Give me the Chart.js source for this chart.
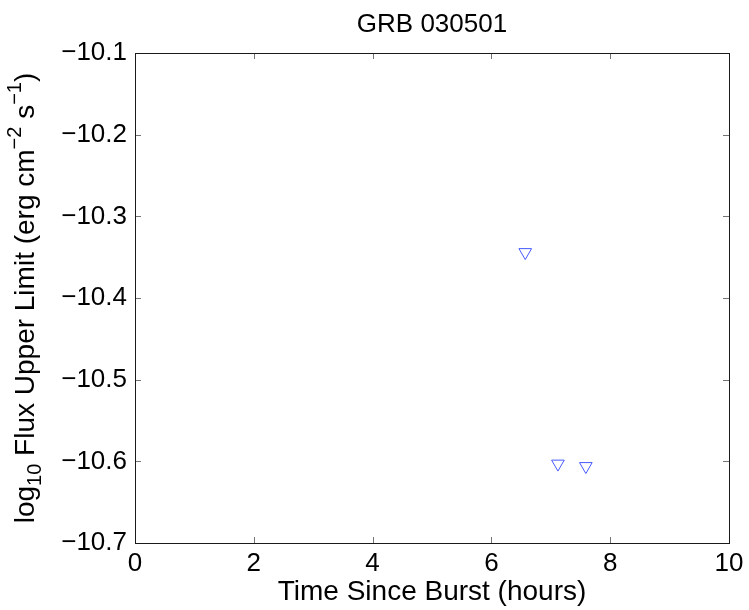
<!DOCTYPE html>
<html>
<head>
<meta charset="utf-8">
<script src="https://cdn.jsdelivr.net/npm/chart.js@4"></script>
<style>
  html, body { margin: 0; padding: 0; background: #fff; }
  #c { display: block; }
</style>
</head>
<body>
<canvas id="c" width="749" height="610"></canvas>
<script>
// ---- data ----
const chartTitle = 'GRB 030501';
const timeHours = [6.57, 7.12, 7.59];
const fluxUpperLimit = [-10.344, -10.603, -10.606];
const xTickValues = [0, 2, 4, 6, 8, 10];
const yTickValues = [-10.7, -10.6, -10.5, -10.4, -10.3, -10.2, -10.1];
const xLabel = 'Time Since Burst (hours)';
// y label parts: [text, kind] kind: n = normal, sub, sup
const yLabelParts = [['log', 'n'], ['10', 'sub'], [' Flux Upper Limit (erg cm', 'n'], ['\u22122', 'sup'], [' s', 'n'], ['\u22121', 'sup'], [')', 'n']];

const FONT = '"Liberation Sans", Arial, Helvetica, sans-serif';
const fmt = v => (v < 0 ? '\u2212' : '') + Math.abs(v).toFixed(v % 1 === 0 && Math.abs(v) < 100 && xTickValues.includes(v) ? 0 : 1);

const decorations = {
  id: 'decorations',
  afterDraw(chart) {
    const ctx = chart.ctx;
    const a = chart.chartArea;
    const xs = chart.scales.x, ys = chart.scales.y;
    ctx.save();
    // inward ticks on all four sides
    ctx.strokeStyle = 'rgba(0,0,0,0.55)';
    ctx.lineWidth = 1;
    const tl = 6;
    ctx.beginPath();
    xTickValues.forEach(v => {
      const px = Math.round(xs.getPixelForValue(v)) + 0.5;
      ctx.moveTo(px, a.bottom); ctx.lineTo(px, a.bottom - tl);
      ctx.moveTo(px, a.top); ctx.lineTo(px, a.top + tl);
    });
    yTickValues.forEach(v => {
      const py = Math.round(ys.getPixelForValue(v)) + 0.5;
      ctx.moveTo(a.left, py); ctx.lineTo(a.left + tl, py);
      ctx.moveTo(a.right, py); ctx.lineTo(a.right - tl, py);
    });
    ctx.stroke();
    // box
    ctx.strokeStyle = '#1a1a1a';
    ctx.strokeRect(Math.round(a.left) + 0.5, Math.round(a.top) + 0.5, Math.round(a.right - a.left), Math.round(a.bottom - a.top));

    // title
    ctx.fillStyle = '#000';
    ctx.font = '26px ' + FONT;
    ctx.textAlign = 'center';
    ctx.textBaseline = 'alphabetic';
    ctx.fillText(chartTitle, (a.left + a.right) / 2, 32);

    // x label
    ctx.font = '28px ' + FONT;
    ctx.fillText(xLabel, (a.left + a.right) / 2, 600);

    // y label (rotated, with sub/superscripts)
    const main = 28, small = 20;
    let total = 0;
    yLabelParts.forEach(([t, k]) => {
      ctx.font = (k === 'n' ? main : small) + 'px ' + FONT;
      total += ctx.measureText(t).width;
    });
    ctx.translate(34, (a.top + a.bottom) / 2);
    ctx.rotate(-Math.PI / 2);
    ctx.textAlign = 'left';
    let x = -total / 2;
    yLabelParts.forEach(([t, k]) => {
      ctx.font = (k === 'n' ? main : small) + 'px ' + FONT;
      const dy = k === 'sub' ? 7 : (k === 'sup' ? -13 : 0);
      ctx.fillText(t, x, dy);
      x += ctx.measureText(t).width;
    });
    ctx.restore();
  }
};

new Chart(document.getElementById('c'), {
  type: 'scatter',
  data: {
    datasets: [{
      data: timeHours.map((t, i) => ({ x: t, y: fluxUpperLimit[i] })),
      pointStyle: 'triangle',
      rotation: 180,
      pointRadius: 7.3,
      pointHoverRadius: 7.3,
      borderColor: 'rgb(70,90,255)',
      backgroundColor: 'rgba(0,0,0,0)',
      borderWidth: 1,
      showLine: false
    }]
  },
  options: {
    responsive: false,
    animation: false,
    devicePixelRatio: 1,
    layout: { padding: { top: 53, right: 20, left: 0, bottom: 0 } },
    plugins: { legend: { display: false }, tooltip: { enabled: false }, title: { display: false } },
    scales: {
      x: {
        type: 'linear', min: 0, max: 10,
        afterBuildTicks: s => { s.ticks = xTickValues.map(v => ({ value: v })); },
        afterFit: s => { s.height = 67; },
        grid: { display: false, drawTicks: false },
        border: { display: false },
        ticks: {
          color: '#000', padding: 5, maxRotation: 0,
          font: { family: FONT, size: 26 },
          callback: v => String(v)
        }
      },
      y: {
        type: 'linear', min: -10.7, max: -10.1,
        afterBuildTicks: s => { s.ticks = yTickValues.map(v => ({ value: v })); },
        afterFit: s => { s.width = 135; },
        grid: { display: false, drawTicks: false },
        border: { display: false },
        ticks: {
          color: '#000', padding: 8,
          font: { family: FONT, size: 26 },
          callback: v => '\u2212' + Math.abs(v).toFixed(1)
        }
      }
    }
  },
  plugins: [decorations]
});
</script>
</body>
</html>
